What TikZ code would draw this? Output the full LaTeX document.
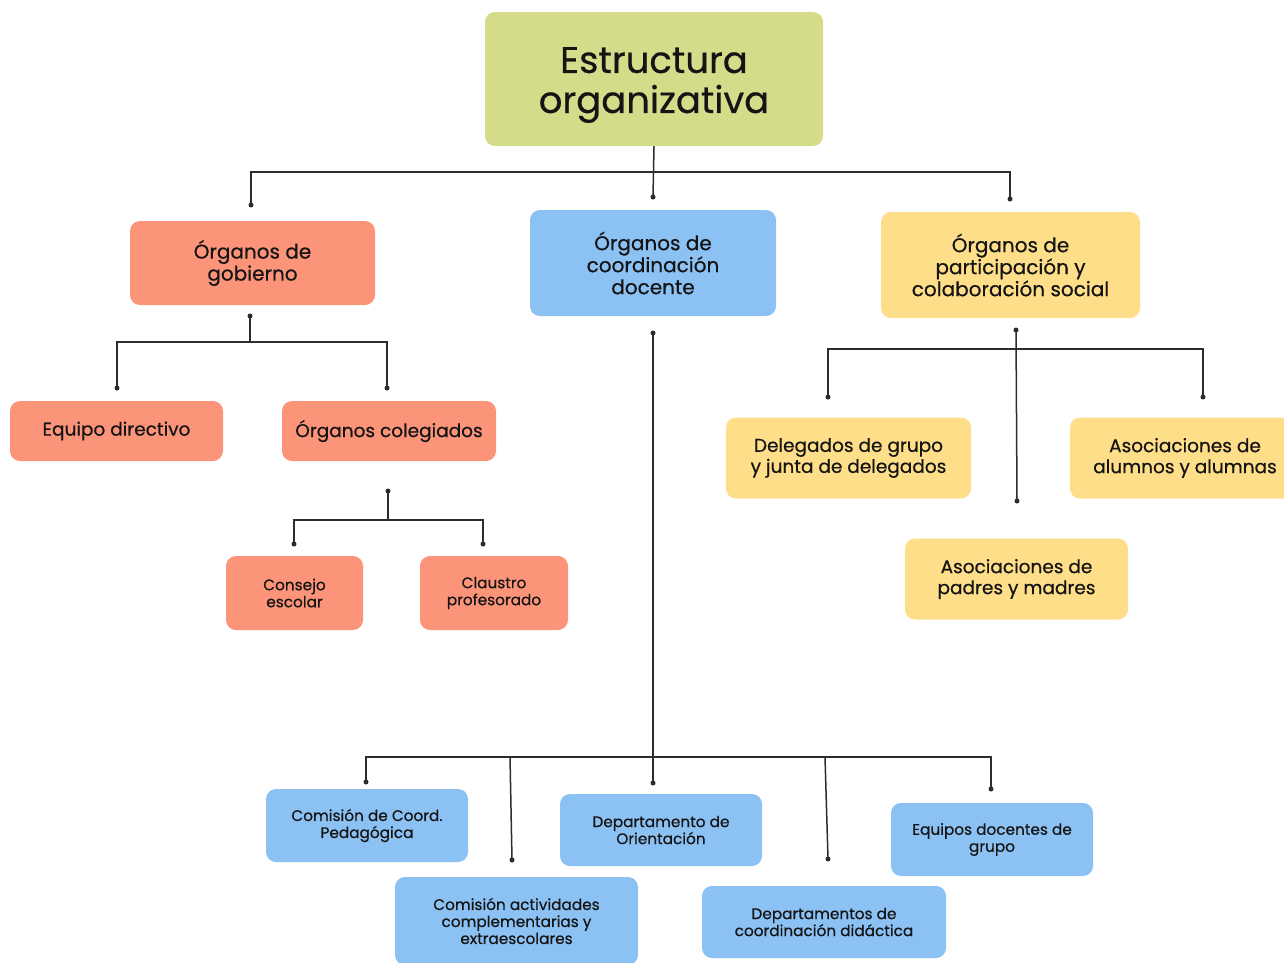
\documentclass[tikz,border=0pt]{standalone}
\usepackage{fontspec}
\setmainfont{Poppins}[FakeBold=0.5]
\usetikzlibrary{calc}
\definecolor{cgreen}{RGB}{212,220,138}
\definecolor{csalmon}{RGB}{252,148,121}
\definecolor{cblue}{RGB}{140,193,244}
\definecolor{cyellow}{RGB}{255,222,137}
\definecolor{cline}{RGB}{45,45,45}
\definecolor{ctext}{RGB}{20,20,20}
\tikzset{
  box/.style={rounded corners=10pt, inner sep=0pt, align=center, text=ctext},
  big/.style={font=\fontsize{20}{22}\selectfont},
  bigone/.style={font=\fontsize{18.5}{22}\selectfont},
  mid/.style={font=\fontsize{18.5}{21}\selectfont},
  small/.style={font=\fontsize{15.3}{17}\selectfont},
  conn/.style={draw=cline, line width=1.5pt},
  dotc/.style={fill=cline},
}
\begin{document}
\begin{tikzpicture}[x=1pt,y=-1pt]
\useasboundingbox (0,0) rectangle (1284,962);
\fill[white] (0,0) rectangle (1284,962);
% nodes
\node[box,fill=cgreen,minimum width=338,minimum height=134,
  label={[align=center,text=ctext,font=\fontsize{37}{40}\selectfont,yshift=-6pt]center:Estructura\\organizativa}] (title) at (654,79) {};
\node[box,big,fill=csalmon,minimum width=245,minimum height=84] (gob) at (252.5,263) {Órganos de\\gobierno};
\node[box,big,fill=cblue,minimum width=246,minimum height=106] (coord) at (653,263) {Órganos de\\coordinación\\docente};
\node[box,big,fill=cyellow,minimum width=259,minimum height=106] (part) at (1010.5,265) {Órganos de\\participación y\\colaboración social};
\node[box,bigone,fill=csalmon,minimum width=213,minimum height=60] (equipo) at (116.5,431) {Equipo directivo};
\node[box,bigone,fill=csalmon,minimum width=214,minimum height=60] (coleg) at (389,431) {Órganos colegiados};
\node[box,small,fill=csalmon,minimum width=137,minimum height=74] (consejo) at (294.5,593) {Consejo\\escolar};
\node[box,small,fill=csalmon,minimum width=148,minimum height=74] (claustro) at (494,593) {Claustro\\profesorado};
\node[box,mid,fill=cyellow,minimum width=245,minimum height=81] (deleg) at (848.5,458) {Delegados de grupo\\y junta de delegados};
\node[box,mid,fill=cyellow,minimum width=230,minimum height=81] (alum) at (1185,458) {Asociaciones de\\alumnos y alumnas};
\node[box,mid,fill=cyellow,minimum width=223,minimum height=81] (padres) at (1016.5,579) {Asociaciones de\\padres y madres};
\node[box,small,fill=cblue,minimum width=202,minimum height=73] (ccp) at (367,825.5) {Comisión de Coord.\\Pedagógica};
\node[box,small,fill=cblue,minimum width=243,minimum height=88] (cace) at (516.5,921) {Comisión actividades\\complementarias y\\extraescolares};
\node[box,small,fill=cblue,minimum width=202,minimum height=72] (orient) at (661,830) {Departamento de\\Orientación};
\node[box,small,fill=cblue,minimum width=244,minimum height=72] (didac) at (824,922) {Departamentos de\\coordinación didáctica};
\node[box,small,fill=cblue,minimum width=202,minimum height=73] (eqdoc) at (992,839.5) {Equipos docentes de\\grupo};
% connector coordinates
\coordinate (t1) at (653,172);
\coordinate (dg) at (251,205);
\coordinate (dc) at (653,197);
\coordinate (dp) at (1010,199);
\coordinate (g0) at (250,316);
\coordinate (g1) at (250,342);
\coordinate (de) at (117,388);
\coordinate (dco) at (387,388);
\coordinate (k0) at (388,491);
\coordinate (k1) at (388,520);
\coordinate (dcs) at (294,544);
\coordinate (dcl) at (483,544);
\coordinate (c0) at (653,333);
\coordinate (c1) at (653,757);
\coordinate (c2) at (510,757);
\coordinate (c3) at (825,757);
\coordinate (dccp) at (366,782);
\coordinate (dcace) at (512,860);
\coordinate (dor) at (653,783);
\coordinate (ddid) at (828,859);
\coordinate (deq) at (991,789);
\coordinate (p0) at (1016,330);
\coordinate (p1) at (1016,349);
\coordinate (ddel) at (828,397);
\coordinate (dal) at (1203,397);
\coordinate (dpa) at (1017,501);
% connectors
\draw[conn] (title.south) -- (dc);
\draw[conn] (dg) |- (t1) -| (dp);
\draw[conn] (g0) -- (g1);
\draw[conn] (de) |- (g1) -| (dco);
\draw[conn] (k0) -- (k1);
\draw[conn] (dcs) |- (k1) -| (dcl);
\draw[conn] (c0) -- (dor);
\draw[conn] (dccp) |- (c1) -| (deq);
\draw[conn] (c2) -- (dcace);
\draw[conn] (c3) -- (ddid);
\draw[conn] (p0) -- (dpa);
\draw[conn] (ddel) |- (p1) -| (dal);
% dots
\foreach \p in {dg,dc,dp,g0,de,dco,k0,dcs,dcl,c0,dccp,dcace,dor,ddid,deq,p0,ddel,dal,dpa}
  \fill[dotc] (\p) circle (2.5);
\end{tikzpicture}
\end{document}
